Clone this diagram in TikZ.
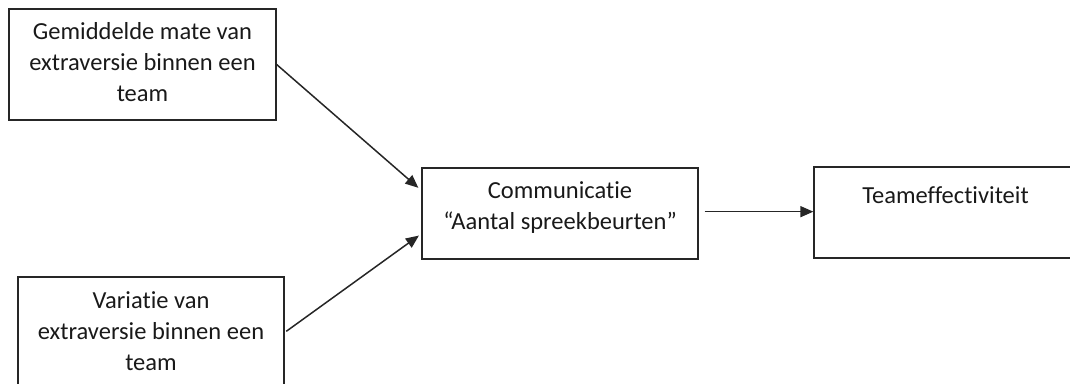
\documentclass[tikz,border=0pt]{standalone}
\usepackage{fontspec}
\setmainfont{Carlito}[Ligatures=NoCommon]
\usetikzlibrary{arrows.meta,positioning,calc}

\tikzset{
  box/.style={draw=black!85, line width=1.3pt, rectangle, inner sep=0pt, fill=none},
  lbl/.style={inner sep=0pt, align=center, text=black!90,
    font=\fontsize{24.5}{31}\selectfont},
  link/.style={draw=black!85, line width=1.5pt,
    -{Triangle[length=13pt,width=11pt]}},
}

\begin{document}
\begin{tikzpicture}[x=1pt, y=-1pt]
  \useasboundingbox (0,0) rectangle (1070,383);
  \clip (0,0) rectangle (1070,383);

  % frames
  \node[box, minimum width=267pt, minimum height=111pt] (b1) at (142.5,64.5) {};
  \node[box, minimum width=266pt, minimum height=111pt] (b2) at (151,332.5) {};
  \node[box, minimum width=276pt, minimum height=91pt] (b3) at (560,213.5) {};
  \node[box, minimum width=263pt, minimum height=91pt] (b4) at (945.5,212.5) {};

  % labels
  \node[lbl, below=9.3pt of b1.north] (t1)
    {\strut Gemiddelde mate van\\extraversie binnen een\\team};
  \node[lbl, below=10.3pt of b2.north] (t2)
    {\strut Variatie van\\extraversie binnen een\\team};
  \node[lbl, below=9.3pt of b3.north] (t3)
    {\strut Communicatie\\“Aantal spreekbeurten”};
  \node[lbl, below=15.3pt of b4.north] (t4)
    {\strut Teameffectiviteit};

  % arrow ends on the sides of the boxes
  \coordinate (in1) at ($(b3.north west)!0.25!(b3.south west)$);
  \coordinate (in2) at ($(b3.north west)!0.72!(b3.south west)$);
  \coordinate (out3) at ($(b3.north east)!0.48!(b3.south east)$);

  % connectors
  \draw[link, shorten >=4pt] (b1.east) -- (in1);
  \draw[link, shorten <=2pt, shorten >=3pt] (b2.east) -- (in2);
  \draw[link, shorten <=6pt] (out3) -- (out3 -| b4.west);
\end{tikzpicture}
\end{document}
